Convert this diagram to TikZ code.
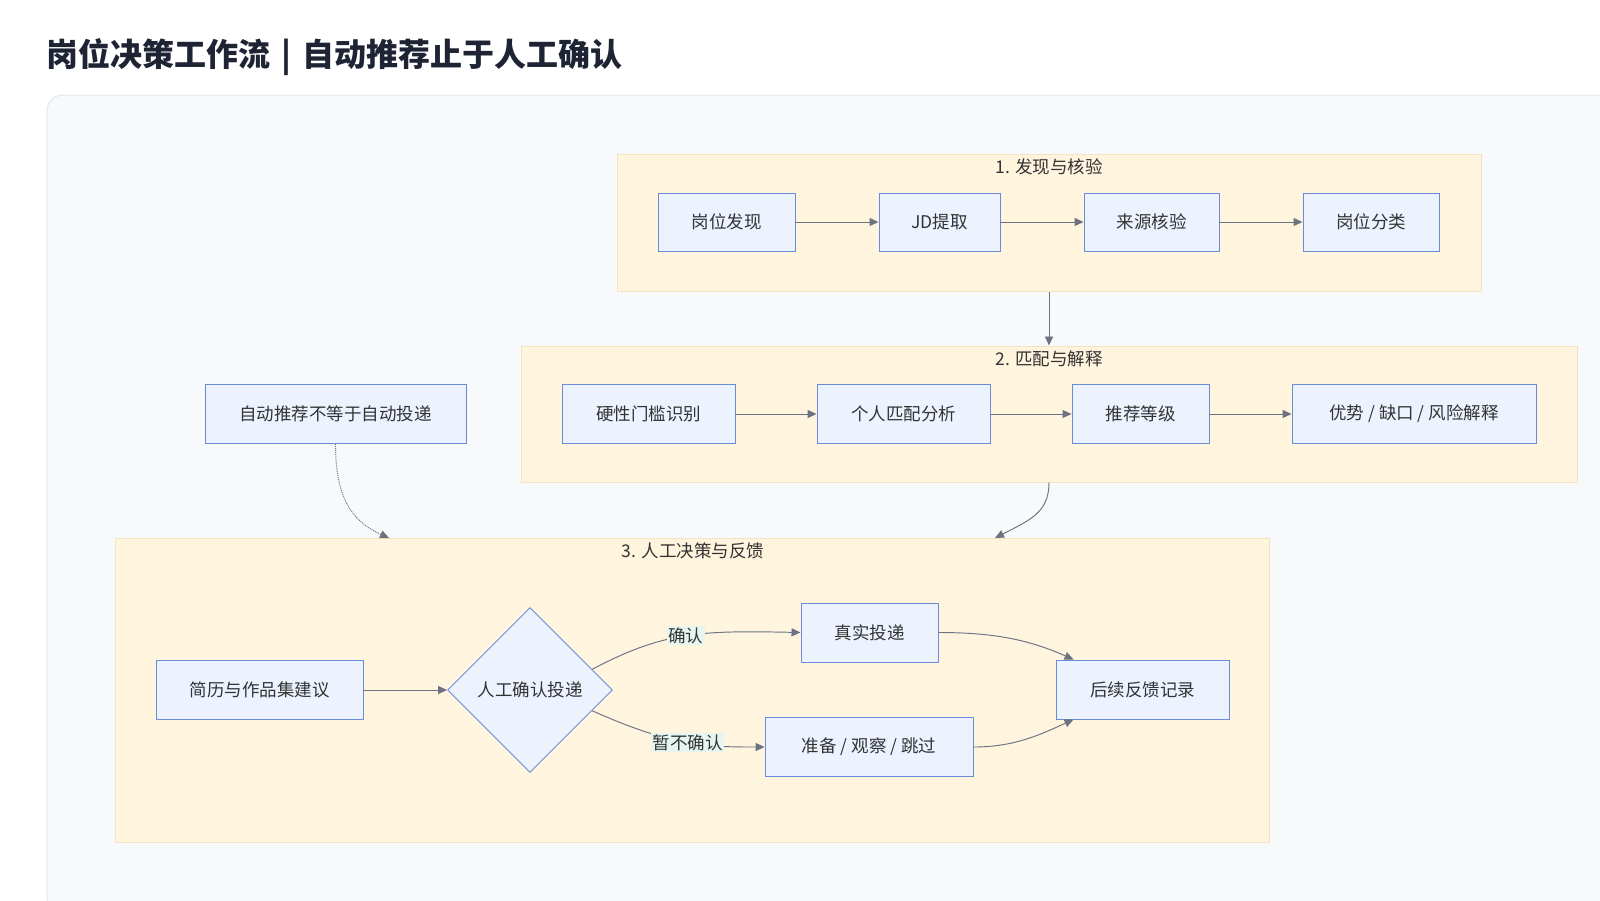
\documentclass[tikz,border=0pt]{standalone}
\usepackage{fontspec}
\setmainfont{Noto Sans CJK SC}
\usetikzlibrary{shapes.geometric,arrows.meta,calc}
\definecolor{panelfill}{HTML}{F8F9FB}
\definecolor{panelline}{HTML}{E2E8F0}
\definecolor{clfill}{HTML}{FFF4DE}
\definecolor{clline}{HTML}{F3E3C0}
\definecolor{nodefill}{HTML}{ECF3FF}
\definecolor{nodeline}{HTML}{6A8CD8}
\definecolor{edgecol}{HTML}{6B7280}
\definecolor{lblfill}{HTML}{E6F6EF}
\definecolor{txt}{HTML}{333333}
\definecolor{titlecol}{HTML}{1E2433}
\tikzset{
  box/.style={rectangle, draw=nodeline, fill=nodefill, line width=0.95pt, text=txt,
    font=\fontsize{17.5}{20}\selectfont, inner sep=0pt},
  cluster/.style={rectangle, draw=clline, fill=clfill, line width=1pt, inner sep=0pt},
  cltitle/.style={text=txt, font=\fontsize{17.5}{20}\selectfont, inner sep=0pt},
  edge/.style={draw=edgecol, line width=0.95pt, -{Triangle[length=9pt,width=8pt]}},
  lbl/.style={fill=lblfill, text=txt, font=\fontsize{17.5}{20}\selectfont, inner sep=1.5pt},
}
\begin{document}
\begin{tikzpicture}[x=1pt,y=-1pt]
\useasboundingbox (0,0) rectangle (1600,900);
\fill[white] (0,0) rectangle (1600,900);
% title
\node[anchor=west, text=titlecol, font=\fontsize{32}{36}\selectfont\bfseries, inner sep=0pt] (title) at (46,57) {岗位决策工作流\hspace{4pt} | \hspace{4pt}自动推荐止于人工确认};
% panel
\draw[fill=panelfill, draw=panelline, line width=1pt, rounded corners=16pt] (47,95) rectangle (1660,960);
% clusters
\node[cluster, minimum width=864pt, minimum height=137pt] (c1) at (1049,222.5) {};
\node[cluster, minimum width=1056pt, minimum height=136pt] (c2) at (1049,414) {};
\node[cluster, minimum width=1154pt, minimum height=304pt] (c3) at (692,690) {};
\node[cltitle] (t1) at (1049,167) {1. 发现与核验};
\node[cltitle] (t2) at (1049,359) {2. 匹配与解释};
\node[cltitle] (t3) at (693,551) {3. 人工决策与反馈};
% cluster 1 nodes
\node[box, minimum width=137pt, minimum height=58pt] (a1) at (726.5,222) {岗位发现};
\node[box, minimum width=121pt, minimum height=58pt] (a2) at (939.5,222) {JD提取};
\node[box, minimum width=135pt, minimum height=58pt] (a3) at (1151.5,222) {来源核验};
\node[box, minimum width=136pt, minimum height=58pt] (a4) at (1371,222) {岗位分类};
% cluster 2 nodes
\node[box, minimum width=173pt, minimum height=59pt] (b1) at (648.5,414) {硬性门槛识别};
\node[box, minimum width=173pt, minimum height=59pt] (b2) at (903.5,414) {个人匹配分析};
\node[box, minimum width=137pt, minimum height=59pt] (b3) at (1140.5,414) {推荐等级};
\node[box, minimum width=244pt, minimum height=59pt] (b4) at (1414,414) {优势 / 缺口 / 风险解释};
% note
\node[box, minimum width=261pt, minimum height=59pt] (note) at (335.5,414) {自动推荐不等于自动投递};
% cluster 3 nodes
\node[box, minimum width=207pt, minimum height=59pt] (d1) at (259.5,690) {简历与作品集建议};
\node[diamond, draw=nodeline, fill=nodefill, line width=0.95pt, text=txt, font=\fontsize{17.5}{20}\selectfont,
  inner sep=0pt, minimum width=165pt, minimum height=165pt] (dia) at (530,690) {人工确认投递};
\node[box, minimum width=137pt, minimum height=59pt] (e1) at (869.5,632.5) {真实投递};
\node[box, minimum width=208pt, minimum height=59pt] (e2) at (869,747) {准备 / 观察 / 跳过};
\node[box, minimum width=173pt, minimum height=59pt] (f1) at (1142.5,689.5) {后续反馈记录};
% coordinates
\coordinate (c3a) at (995,538);
\coordinate (c3b) at (389,538);
\coordinate (diaU) at ($(dia.east)!0.25!(dia.north)$);
\coordinate (diaL) at ($(dia.east)!0.25!(dia.south)$);
\coordinate (f1t) at ($(f1.north west)+(18,0)$);
\coordinate (f1b) at ($(f1.south west)+(18,0)$);
% edges
\draw[edge] (a1.east) -- (a2.west);
\draw[edge] (a2.east) -- (a3.west);
\draw[edge] (a3.east) -- (a4.west);
\draw[edge] (b1.east) -- (b2.west);
\draw[edge] (b2.east) -- (b3.west);
\draw[edge] (b3.east) -- (b4.west);
\draw[edge] (c1.south) -- (c2.north);
\draw[edge] (c2.south) .. controls ($(c2.south)+(0,30)$) and ($(c3a)+(35,-18)$) .. (c3a);
\draw[edge, densely dotted] (note.south) .. controls ($(note.south)+(0,50)$) and ($(c3b)+(-40,-18)$) .. (c3b);
\draw[edge] (d1.east) -- (dia.west);
\draw[edge] (diaU) .. controls ($(diaU)+(72,-38)$) and ($(e1.west)+(-100,-2)$) .. (e1.west) node[lbl, pos=0.5] {确认};
\draw[edge] (diaL) .. controls ($(diaL)+(80,36)$) and ($(e2.west)+(-55,0)$) .. (e2.west) node[lbl, pos=0.5] {暂不确认};
\draw[edge] (e1.east) .. controls ($(e1.east)+(55,0)$) and ($(f1t)+(-45,-20)$) .. (f1t);
\draw[edge] (e2.east) .. controls ($(e2.east)+(40,0)$) and ($(f1b)+(-35,16)$) .. (f1b);
\end{tikzpicture}
\end{document}
